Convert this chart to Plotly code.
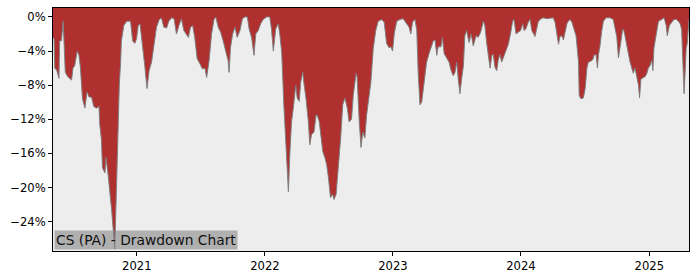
import pandas as pd
import plotly.graph_objects as go

# Day offsets from 2021-01-01 and drawdown in percent
base_date = "2021-01-01"
day_offsets = [
    -239, -236, -234, -228, -222, -220, -215, -210, -204, -197, -186, -182, -177, -170, -165, -161,
    -155, -148, -142, -136, -129, -123, -115, -108, -106, -101, -98, -91, -88, -82, -72, -63, -58,
    -53, -50, -46, -44, -37, -29, -25, -18, -12, -6, -1, 4, 9, 16, 23, 29, 35, 42, 48, 56, 64, 70,
    77, 85, 91, 99, 106, 113, 120, 127, 134, 142, 147, 153, 159, 165, 172, 180, 187, 194, 199, 206,
    213, 220, 225, 232, 239, 246, 254, 260, 263, 267, 273, 280, 286, 294, 301, 308, 315, 320, 327,
    334, 339, 346, 353, 360, 370, 379, 384, 389, 396, 403, 408, 413, 419, 427, 432, 436, 441, 446,
    453, 457, 463, 467, 473, 476, 482, 489, 493, 498, 505, 511, 514, 520, 524, 530, 536, 541, 546,
    552, 558, 562, 568, 574, 581, 587, 593, 600, 605, 612, 617, 625, 628, 634, 639, 644, 650, 655,
    662, 667, 674, 681, 688, 698, 705, 712, 719, 724, 729, 734, 741, 750, 759, 769, 776, 781, 786,
    793, 798, 802, 807, 812, 817, 821, 826, 833, 838, 845, 850, 855, 859, 867, 871, 876, 883, 890,
    896, 902, 907, 912, 916, 921, 926, 931, 935, 940, 947, 953, 959, 967, 973, 980, 988, 992, 997,
    1002, 1007, 1012, 1016, 1021, 1026, 1030, 1035, 1040, 1045, 1052, 1059, 1066, 1071, 1075, 1081,
    1087, 1094, 1100, 1104, 1109, 1116, 1121, 1126, 1135, 1140, 1144, 1149, 1159, 1168, 1178, 1187,
    1192, 1197, 1202, 1206, 1211, 1216, 1221, 1226, 1230, 1235, 1240, 1244, 1252, 1259, 1261, 1266,
    1273, 1278, 1283, 1287, 1294, 1300, 1303, 1309, 1313, 1316, 1320, 1325, 1330, 1338, 1349, 1358,
    1363, 1368, 1373, 1376, 1380, 1385, 1389, 1395, 1401, 1406, 1411, 1415, 1420, 1425, 1430, 1433,
    1437, 1444, 1449, 1454, 1458, 1463, 1468, 1471, 1474, 1480, 1487, 1496, 1503, 1509, 1512, 1518,
    1525, 1531, 1539, 1544, 1549, 1553, 1558, 1560, 1566, 1569, 1574,
]
drawdown_pct = [
    -2.4, -2.6, -6.0, -6.3, -7.2, -2.8, -2.8, -0.5, -6.5, -7.0, -7.4, -6.0, -5.7, -4.0, -4.5, -5.9,
    -9.6, -10.7, -8.8, -9.4, -9.4, -10.5, -10.7, -10.5, -12.5, -14.4, -17.7, -18.3, -16.5, -18.5, -22.6, -27.2, -20.0,
    -12.0, -8.0, -5.1, -2.8, -1.0, -0.5, -0.5, -0.5, -2.8, -3.1, -2.6, -1.0, -0.8, -3.1, -5.9, -8.4, -6.3, -5.3, -3.6, -1.2, -0.3, -0.1,
    -1.2, -1.3, -0.5, -0.1, -0.2, -2.0, -1.0, -0.2, -1.6, -2.2, -2.4, -1.2, -1.0, -2.4, -4.9, -5.5, -6.1, -6.0, -7.1, -5.1,
    -2.0, -0.3, 0.0, -1.2, -1.8, -2.8, -4.0, -5.1, -6.5, -3.6, -2.0, -1.2, -2.4, -1.6, -0.2, 0.0, 0.0, -1.4, -2.4,
    -4.5, -2.0, -1.6, -0.8, -0.3, 0.0, 0.0, -1.5, -4.0, -1.4, -0.8, -2.2, -4.2, -10.3, -17.3, -20.5, -16.2, -12.3, -10.7,
    -8.0, -9.5, -9.9, -7.7, -6.5, -7.7, -9.5, -12.3, -15.0, -13.8, -13.5, -11.5, -11.5, -12.3, -13.5, -15.8, -16.5, -17.3, -18.8,
    -21.2, -20.8, -21.4, -20.8, -18.1, -14.2, -10.3, -9.5, -10.7, -12.3, -12.0, -9.2, -6.6, -7.1, -12.3, -15.3, -13.5, -14.2, -11.5,
    -8.8, -7.7, -3.7, -1.6, -0.5, -0.3, -0.6, -3.1, -3.6, -3.5, -4.0, -1.9, -0.5, -0.3, -0.2, -0.8, -1.2, -2.0, -0.6,
    -0.3, -1.6, -6.5, -10.3, -10.0, -8.4, -6.5, -5.3, -4.3, -3.7, -2.8, -2.7, -4.5, -3.5, -3.5, -2.4, -4.3, -4.8, -5.3,
    -6.3, -6.9, -6.5, -5.3, -7.2, -9.0, -7.2, -5.7, -2.2, -1.6, -3.0, -2.0, -3.4, -2.2, -2.4, -1.8, -0.5, -1.0, -3.0,
    -4.3, -6.0, -4.5, -4.4, -5.9, -6.3, -5.1, -4.4, -5.3, -4.8, -4.0, -3.2, -1.8, -0.5, -0.3, -2.0,
    -1.8, -1.6, -0.8, -1.6, -1.4, -0.6, -0.3, -1.6, -2.3, -1.4, -0.6, -0.3, -0.1, -0.2, -0.1, -0.1,
    -0.6, -2.2, -3.2, -2.3, -2.2, -2.7, -1.6, -0.8, -0.5, -0.3, -0.6, -1.2, -2.2, -5.3, -9.2, -9.6,
    -9.5, -8.4, -6.0, -5.3, -5.2, -5.0, -4.5, -4.4, -6.0, -4.4, -3.5, -1.7, -0.5, -0.1, -0.1, -0.3,
    -1.2, -2.3, -4.8, -4.0, -3.1, -1.4, -1.7, -3.1, -4.4, -5.3, -6.0, -6.6, -6.0, -7.1, -8.0, -9.5,
    -7.3, -7.1, -7.0, -6.6, -6.0, -5.7, -5.1, -6.3, -3.7, -2.2, -0.5, -0.3, -0.1, -1.0, -2.2, -1.0,
    -0.6, -0.3, -0.3, -0.5, -0.8, -1.5, -6.5, -9.0, -3.7, -3.1, -0.3,
]
y_tick_vals = [0, -4, -8, -12, -16, -20, -24]
y_tick_text = ["0%", "\u22124%", "\u22128%", "\u221212%", "\u221216%", "\u221220%", "\u221224%"]
x_tick_vals = ["2021-01-01", "2022-01-01", "2023-01-01", "2024-01-01", "2025-01-01"]
x_tick_text = ["2021", "2022", "2023", "2024", "2025"]
title_text = "CS (PA) - Drawdown Chart"
y_min, y_max = -27.45, 1.05

dates = pd.to_datetime(base_date) + pd.to_timedelta(day_offsets, unit="D")

RED = "#b03030"
fig = go.Figure()
fig.add_trace(go.Scatter(
    x=dates, y=drawdown_pct, mode="lines", fill="tozeroy",
    fillcolor=RED, line=dict(color="rgba(125,125,125,0.95)", width=1),
    hoverinfo="skip", showlegend=False,
))
fig.add_shape(type="rect", xref="paper", yref="y", x0=0, x1=1, y0=0, y1=y_max,
              fillcolor=RED, line=dict(width=0), layer="below")

font_family = "DejaVu Sans"
fig.update_layout(
    width=700, height=280,
    margin=dict(l=53, r=11, t=7, b=28, pad=0),
    paper_bgcolor="white", plot_bgcolor="#ededed",
    font=dict(family=font_family, color="black", size=11.6),
    xaxis=dict(
        range=[dates.min(), dates.max()], showgrid=False, zeroline=False,
        tickvals=x_tick_vals, ticktext=x_tick_text,
        ticks="outside", ticklen=4, tickcolor="black", tickwidth=1,
        showline=True, linecolor="black", linewidth=1, mirror=True,
    ),
    yaxis=dict(
        range=[y_min, y_max], showgrid=False, zeroline=False,
        tickvals=y_tick_vals, ticktext=y_tick_text,
        ticks="outside", ticklen=4, tickcolor="black", tickwidth=1,
        showline=True, linecolor="black", linewidth=1, mirror=True,
    ),
    annotations=[dict(
        text=title_text, xref="paper", yref="paper", x=0, y=0,
        xanchor="left", yanchor="bottom", showarrow=False,
        font=dict(family=font_family, size=13.8, color="#111111"),
        bgcolor="rgba(128,128,128,0.56)", borderpad=1, xshift=1, yshift=1,
    )],
)

fig.write_html("out.html")
